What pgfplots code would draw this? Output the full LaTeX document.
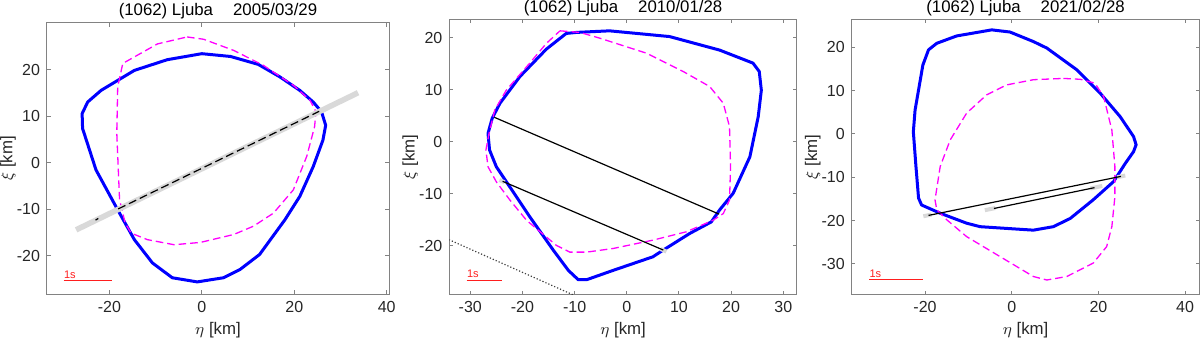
\documentclass[border=0pt]{standalone}
\usepackage{fontspec}
\setmainfont{Liberation Sans}
\usepackage{pgfplots}
\pgfplotsset{compat=1.18}

\definecolor{cBlue}{RGB}{0,0,255}
\definecolor{cMag}{RGB}{255,0,255}
\definecolor{cGray}{RGB}{217,217,217}
\definecolor{cRed}{RGB}{255,30,30}
\definecolor{cFrame}{RGB}{130,130,130}
\definecolor{cText}{RGB}{38,38,38}

\newcommand\tickfont{\fontsize{8}{9}\selectfont}
\newcommand\labfont{\fontsize{8.4}{9}\selectfont}

\pgfplotsset{
  every axis title shift=0pt,
  panel/.style={
    scale only axis, anchor=south west,
    axis line style={cFrame, line width=0.5pt},
    tick style={cFrame, line width=0.5pt},
    major tick length=1.8pt, tick align=inside,
    xtick pos=both, ytick pos=both,
    ticklabel style={font=\tickfont, text=cText},
    /pgf/number format/assume math mode=true,
    xlabel={$\eta$ [km]}, ylabel={$\xi$ [km]},
    label style={font=\labfont, text=cText},
    xlabel style={at={([yshift=-18pt]axis description cs:0.5,0)}, anchor=center},
    ylabel style={at={([xshift=-19.5pt]axis description cs:0,0.5)}, anchor=center},
    title style={font=\fontsize{8.4}{9}\selectfont, text=black, at={([yshift=3.6pt]axis description cs:0.5,1)}, anchor=base},
  },
  shape/.style={cBlue, line width=1.5pt, line join=round, no markers},
  model/.style={cMag, line width=0.65pt, dash pattern=on 3.8pt off 2pt, no markers},
  chord/.style={black, line width=0.6pt, mark=*, mark size=1pt},
  gline/.style={cGray, line width=2.8pt, no markers},
  scalebar/.style={cRed, line width=0.5pt, no markers},
}

\begin{document}
\begin{tikzpicture}
\useasboundingbox (0,0) rectangle (600pt,169.5pt);

% ---- panel 1 : 2005/03/29
\begin{axis}[panel, at={(23.5pt,22.5pt)}, width=171pt, height=135.5pt,
  xmin=-33.5, xmax=40.5, ymin=-28.2, ymax=30.1,
  xtick={-20,0,20,40}, ytick={-20,-10,0,10,20},
  title={(1062) Ljuba\hspace{10pt}2005/03/29}]
\addplot[shape] coordinates {
 (0,23.5) (6.2,22.9) (12.2,21.2) (16.9,18.5) (21.2,15.6) (24.1,13.1) (25.9,11)
 (26.8,8.1) (26.2,4.9) (24.1,-0.8) (21.2,-7.2) (18,-12.2) (12.5,-19.7) (8.3,-22.9)
 (4.7,-24.7) (-1,-25.6) (-6.4,-24.7) (-10.7,-21.5) (-14.6,-16.5) (-18.2,-10.1)
 (-22.9,-1.5) (-25.8,7.4) (-25.9,10.6) (-24.7,13.1) (-21.8,15.6) (-14.6,19.9)
 (-7.5,22.2) (0,23.5)};
\addplot[model] coordinates {
 (-3.2,27.1) (0.4,26.6) (6.9,24.2) (13.3,21) (19.8,16.7) (23.4,13.5) (24.7,11)
 (24.4,7.8) (22.7,1.4) (19.8,-5.8) (15.5,-10.8) (11.2,-13.6) (6.9,-15.4)
 (-0.3,-17.1) (-6,-17.6) (-11.8,-16.5) (-15.3,-15.1) (-16.6,-12.9) (-17.8,-7.9)
 (-18.4,6.4) (-18.2,16.4) (-17.1,21.4) (-14.6,22.8) (-9.6,25.6) (-3.2,27.1)};
\addplot[gline] coordinates {(-27.2,-14.4) (33.8,15.1)};
\addplot[chord, dash pattern=on 4pt off 2pt] coordinates {(-18.1,-9.9) (25.4,11.1)};
\addplot[black, line width=0.6pt, no markers] coordinates {(-23,-12.3) (-22.4,-11.95)};
\addplot[scalebar] coordinates {(-29.9,-25.4) (-19.4,-25.4)};
\node[cRed, font=\fontsize{5.5}{6}\selectfont, anchor=south west, inner sep=0pt] at (axis cs:-29.9,-25) {1s};
\end{axis}

% ---- panel 2 : 2010/01/28
\begin{axis}[panel, at={(224.7pt,22.35pt)}, width=173.7pt, height=137.2pt,
  xmin=-34, xmax=32.6, ymin=-29.3, ymax=23.4,
  xtick={-30,-20,...,30}, ytick={-20,-10,0,10,20},
  title={(1062) Ljuba\hspace{10pt}2010/01/28}]
\addplot[shape] coordinates {
 (-3.3,21.3) (8.2,20.2) (17.8,17.6) (24.2,15.1) (25.4,13.5) (25.8,9.9) (25.2,4.8)
 (23.6,-2.9) (20.4,-9.9) (17.8,-13.1) (16.2,-15.4) (12.1,-17.6) (7,-20.8)
 (5,-22.1) (-2.6,-24.7) (-7.7,-26.5) (-9.3,-26.5) (-11.2,-24.7) (-14.1,-20.8)
 (-18.6,-14.4) (-22.4,-8.7) (-25,-4.8) (-26.3,-1.6) (-26.6,1.6) (-25.8,4.5)
 (-24.3,7.4) (-20.5,12.5) (-15.4,17.8) (-11.6,20.8) (-9.6,21) (-3.3,21.3)};
\addplot[model] coordinates {
 (-12.8,21.3) (-9,21) (-5.2,19.9) (3.8,17) (10.8,13.5) (15.9,10.6) (18.5,7.4)
 (19.7,2.9) (19.9,-4.8) (19.7,-11.2) (18.5,-13.8) (16.5,-15.1) (11.4,-17.3)
 (5,-18.9) (-2.6,-20.5) (-7.7,-21.2) (-10.9,-21.2) (-13.5,-19.9) (-19.2,-15.1)
 (-22.4,-11.2) (-25,-7.7) (-26.6,-4.8) (-27,-1.6) (-26.4,1.6) (-25.3,6.1)
 (-23.1,9.9) (-18.6,15.1) (-15.4,18.9) (-12.8,21.3)};
\addplot[black!75, line width=0.6pt, densely dotted, no markers] coordinates {(-34.1,-18.8) (-10.3,-29.4)};
\addplot[cGray, line width=2pt, no markers] coordinates {(-24.4,-7.35) (-23.4,-7.8)};
\addplot[cGray, line width=2pt, no markers] coordinates {(6.5,-20.6) (7.6,-21.1)};
\addplot[chord] coordinates {(-25.4,4.7) (17.7,-13.9)};
\addplot[chord] coordinates {(-23.8,-7.6) (7,-20.8)};
\addplot[scalebar] coordinates {(-30.7,-26.6) (-24,-26.6)};
\node[cRed, font=\fontsize{5.5}{6}\selectfont, anchor=south west, inner sep=0pt] at (axis cs:-30.7,-26.2) {1s};
\end{axis}

% ---- panel 3 : 2021/02/28
\begin{axis}[panel, at={(425.9pt,22.35pt)}, width=173.8pt, height=137.2pt,
  xmin=-36.9, xmax=43.3, ymin=-37, ymax=26.3,
  xtick={-20,0,20,40}, ytick={-30,-20,...,20},
  title={(1062) Ljuba\hspace{10pt}2021/02/28}]
\addplot[shape] coordinates {
 (-4.6,24) (-0.4,23.5) (5,21.3) (8.1,19.8) (15,14.8) (20.4,9.4) (25,4) (28.1,-0.6)
 (28.7,-2.5) (28.1,-4.1) (26.2,-6.8) (23.5,-11) (18.8,-15.2) (13.5,-19.5)
 (9.6,-21.4) (5,-22.2) (-1.2,-21.8) (-7.3,-21.4) (-10.4,-20.6) (-16.5,-18.3)
 (-20.8,-16.4) (-21.5,-14.8) (-22.1,-7.5) (-22.7,0.5) (-22.3,5.5) (-20.5,15.9)
 (-19.2,19.4) (-17.3,20.9) (-12.7,22.6) (-4.6,24)};
\addplot[model] coordinates {
 (11.9,12.8) (15.8,12.6) (19.2,11.7) (21.2,8.6) (23.1,0.9) (23.8,-7.5) (23.8,-14.5)
 (23.1,-21.4) (21.9,-26) (18.8,-29.8) (12.7,-32.9) (8.1,-33.7) (5,-32.9)
 (-2.7,-28.3) (-10.4,-23.7) (-15,-19.8) (-17.3,-17.5) (-17.7,-15.2) (-16.5,-7.5)
 (-14.2,-1.4) (-10.4,4.8) (-5.8,9) (-1.2,11.3) (5,12.5) (11.9,12.8)};
\addplot[cGray, line width=2pt, no markers] coordinates {(-20.4,-19.0) (-18.5,-18.6)};
\addplot[cGray, line width=2pt, no markers] coordinates {(24.3,-10.0) (26.2,-9.6)};
\addplot[cGray, line width=2pt, no markers] coordinates {(-6.2,-17.6) (-3.8,-17.1)};
\addplot[cGray, line width=2pt, no markers] coordinates {(18.1,-12.6) (20.9,-12.0)};
\addplot[chord] coordinates {(-19.2,-18.8) (25.2,-9.8)};
\addplot[chord] coordinates {(-4.1,-17.2) (19.1,-12.4)};
\addplot[scalebar] coordinates {(-32.9,-33.7) (-20.5,-33.7)};
\node[cRed, font=\fontsize{5.5}{6}\selectfont, anchor=south west, inner sep=0pt] at (axis cs:-32.9,-33.3) {1s};
\end{axis}
\end{tikzpicture}
\end{document}
